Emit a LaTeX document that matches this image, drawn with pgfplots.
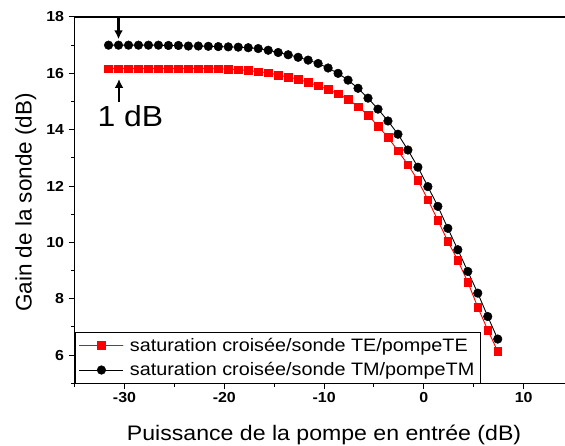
\documentclass[border=0pt]{standalone}
\usepackage{fontspec}
\setmainfont{Liberation Sans}[FakeStretch=1.1]
\newfontfamily\ylabfont{Liberation Sans}
\usepackage{pgfplots}
\pgfplotsset{compat=1.18}
\usetikzlibrary{arrows.meta}

\pgfplotstableread{
x y
-31.6 16.17
-30.6 16.17
-29.6 16.17
-28.6 16.17
-27.6 16.17
-26.6 16.17
-25.6 16.17
-24.6 16.17
-23.6 16.17
-22.6 16.17
-21.6 16.17
-20.6 16.16
-19.6 16.15
-18.6 16.13
-17.6 16.10
-16.6 16.06
-15.6 16.02
-14.6 15.94
-13.6 15.87
-12.6 15.79
-11.6 15.68
-10.6 15.56
-9.6 15.43
-8.6 15.27
-7.6 15.08
-6.6 14.82
-5.6 14.52
-4.6 14.13
-3.6 13.73
-2.6 13.25
-1.6 12.76
-0.6 12.20
0.4 11.52
1.4 10.78
2.4 10.04
3.4 9.36
4.4 8.59
5.4 7.70
6.4 6.89
7.4 6.13
}\TEdata

\pgfplotstableread{
x y
-31.6 17.00
-30.6 17.00
-29.6 17.00
-28.6 17.00
-27.6 17.00
-26.6 17.00
-25.6 16.99
-24.6 16.99
-23.6 16.97
-22.6 16.97
-21.6 16.96
-20.6 16.95
-19.6 16.94
-18.6 16.93
-17.6 16.91
-16.6 16.88
-15.6 16.82
-14.6 16.74
-13.6 16.66
-12.6 16.57
-11.6 16.47
-10.6 16.35
-9.6 16.19
-8.6 16.00
-7.6 15.76
-6.6 15.47
-5.6 15.12
-4.6 14.73
-3.6 14.31
-2.6 13.84
-1.6 13.28
-0.6 12.67
0.4 11.98
1.4 11.28
2.4 10.50
3.4 9.74
4.4 8.97
5.4 8.20
6.4 7.37
7.4 6.57
}\TMdata

\begin{document}
\begin{tikzpicture}
\begin{axis}[
  at={(0,0)}, anchor=south west,
  scale only axis,
  width=499pt, height=366.3pt,
  xmin=-35, xmax=15, ymin=5, ymax=18,
  xtick={-30,-20,...,10}, ytick={6,8,...,18},
  minor xtick={-35,-25,...,15}, minor ytick={5,7,...,17},
  tick pos=left,
  tick align=outside,
  major tick length=6pt, minor tick length=3.5pt,
  every tick/.style={black, line width=1pt},
  axis line style={line width=1.3pt},
  /pgf/number format/assume math mode=true,
  ticklabel style={font=\bfseries\fontsize{14.5}{14.5}\selectfont},
  yticklabel style={xshift=-1pt},
  xlabel={Puissance de la pompe en entrée (dB)},
  ylabel={Gain de la sonde (dB)},
  xlabel style={at={(axis description cs:0.5,0)}, anchor=base, yshift=-56.7pt, font=\fontsize{21}{21}\selectfont},
  ylabel style={at={([xshift=-43pt,yshift=-2.3pt]axis description cs:0,0.5)}, anchor=base, font=\ylabfont\fontsize{22.5}{22.5}\selectfont},
  legend style={at={(axis description cs:0,0)}, anchor=south west, draw=black, line width=0.8pt,
    font=\fontsize{18}{18}\selectfont, inner xsep=4pt, inner ysep=3.5pt, row sep=6pt},
  legend cell align=left,
  legend image code/.code={\draw[mark repeat=2,mark phase=2] plot coordinates {(0pt,0pt) (22pt,0pt) (44pt,0pt)};},
  /tikz/every odd column/.append style={column sep=4pt},
]
\addplot[red, line width=0.9pt, mark=square*, mark size=3.8pt, mark options={fill=red, draw=red, line width=0.5pt}] table[x=x,y=y] {\TEdata};
\addlegendentry{saturation croisée/sonde TE/pompeTE}
\addplot[black, line width=0.9pt, mark=*, mark size=4.3pt, mark options={fill=black, line width=0.5pt}] table[x=x,y=y] {\TMdata};
\addlegendentry{saturation croisée/sonde TM/pompeTM}

\draw[line width=2.4pt, -{Latex[length=9pt,width=9pt]}] (axis cs:-30.6,18) -- (axis cs:-30.6,17.21);
\draw[line width=2.4pt, -{Latex[length=9pt,width=9pt]}] (axis cs:-30.55,14.99) -- (axis cs:-30.55,15.8);
\node[font=\fontsize{29}{29}\selectfont, inner sep=0pt] at (axis cs:-29.4,14.49) {1 dB};
\end{axis}
\pgfresetboundingbox
\path (-74.6pt,-61.7pt) rectangle (490.4pt,383.3pt);
\end{tikzpicture}
\end{document}
